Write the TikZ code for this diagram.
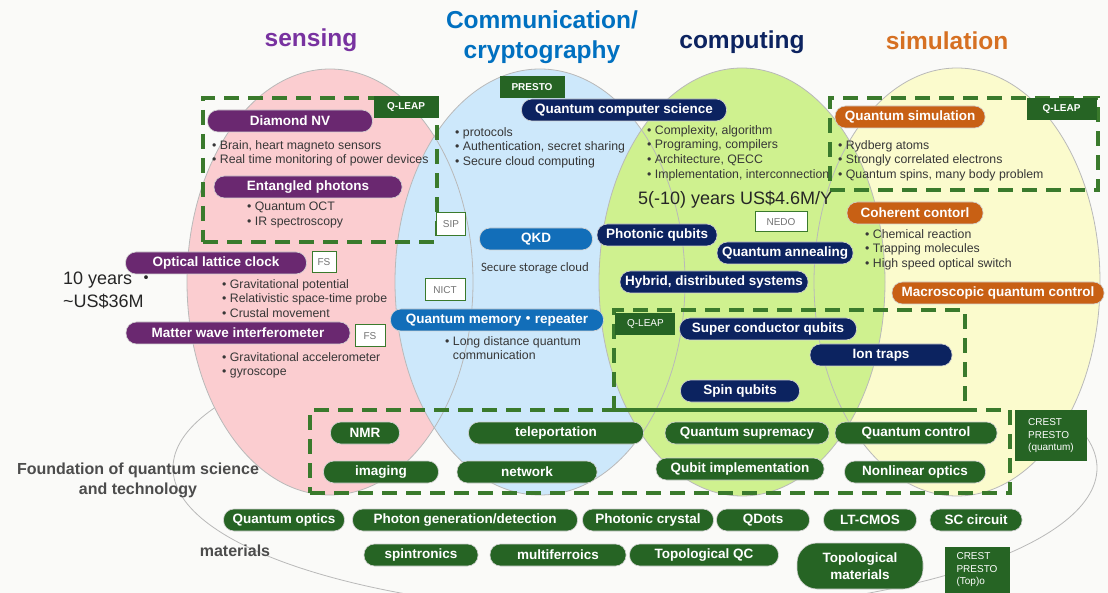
\documentclass[tikz,border=0pt]{standalone}
\usepackage{fontspec}
\setmainfont{Liberation Sans}
\newfontfamily\cjk{Noto Sans CJK JP}
\newfontfamily\calib{Carlito}
\usepackage{tikz}
\usetikzlibrary{positioning, shapes.misc, backgrounds}
\definecolor{Fondo}{RGB}{250,250,248}
\definecolor{Rosa}{RGB}{251,205,208}
\definecolor{Celeste}{RGB}{205,232,251}
\definecolor{Lima}{RGB}{207,241,143}
\definecolor{Crema}{RGB}{251,251,205}
\definecolor{Morado}{RGB}{106,40,112}
\definecolor{MoradoT}{RGB}{120,50,160}
\definecolor{Azul}{RGB}{18,110,185}
\definecolor{AzulT}{RGB}{0,112,192}
\definecolor{Marino}{RGB}{12,35,96}
\definecolor{Naranja}{RGB}{200,96,20}
\definecolor{NaranjaT}{RGB}{214,112,34}
\definecolor{Verde}{RGB}{38,100,36}
\definecolor{VerdeD}{RGB}{58,122,44}
\definecolor{Gris}{RGB}{55,55,55}
\definecolor{Borde}{RGB}{185,185,185}

\begin{document}
\begin{tikzpicture}[x=1pt, y=-1pt,
  every node/.style={font=\fontsize{12.3}{14.8}\selectfont, text=Gris},
  burbuja/.style={
    rectangle, rounded corners=10.5pt,
    draw=white!65!gray, line width=0.6pt,
    minimum height=22pt, inner xsep=4pt, inner ysep=0pt,
    text=white, font=\fontsize{13.5}{15}\selectfont\bfseries
  },
  sensor/.style={burbuja, fill=Morado},
  comunic/.style={burbuja, fill=Azul},
  computo/.style={burbuja, fill=Marino},
  simul/.style={burbuja, fill=Naranja},
  base/.style={burbuja, fill=Verde},
  etiq/.style={
    rectangle, fill=Verde, inner sep=0pt, minimum height=22pt,
    text=white, font=\fontsize{10}{11.5}\selectfont\bfseries
  },
  caja/.style={
    rectangle, fill=white, draw=VerdeD, line width=1pt,
    inner sep=0pt, minimum height=21pt,
    text=gray!90!black, font=\fontsize{10}{11}\selectfont
  },
  marco/.style={
    rectangle, draw=VerdeD, line width=3.5pt,
    dash pattern=on 15pt off 9pt, inner sep=0pt
  },
  lista/.style={anchor=north west, align=left, inner sep=0pt},
  titulo/.style={font=\fontsize{24.5}{30}\selectfont\bfseries, align=center},
  cifra/.style={font=\fontsize{18}{23}\selectfont, text=black!85, align=left, inner sep=0pt},
  rotulo/.style={font=\fontsize{16}{20}\selectfont\bfseries, text=black!70, align=center},
  elipse/.style={draw=Borde, line width=0.8pt}
]
  \useasboundingbox (0,0) rectangle (1108,593);
  \fill[Fondo] (0,0) rectangle (1108,593);

  % --- Elipses de fondo ---
  \draw[elipse] (635,468) ellipse [x radius=462, y radius=145];
  \fill[Rosa]    (330,282) ellipse [x radius=143, y radius=213];
  \fill[Celeste] (540,282) ellipse [x radius=145, y radius=213];
  \fill[Crema]   (957,282) ellipse [x radius=143, y radius=214];
  \fill[Lima]    (742,282) ellipse [x radius=143, y radius=214];
  \draw[elipse] (330,282) ellipse [x radius=143, y radius=213];
  \draw[elipse] (540,282) ellipse [x radius=145, y radius=213];
  \draw[elipse] (957,282) ellipse [x radius=143, y radius=214];
  \draw[elipse] (742,282) ellipse [x radius=143, y radius=214];

  % --- Titulos ---
  \node[titulo, text=MoradoT]  (tsens) at (311,40)  {sensing};
  \node[titulo, text=AzulT, font=\fontsize{24.5}{30}\selectfont\bfseries]
    (tcom)  at (542,37)  {Communication/\\cryptography};
  \node[titulo, text=Marino]   (tcomp) at (742,42)  {computing};
  \node[titulo, text=NaranjaT] (tsim)  at (947,41)  {simulation};

  % --- Marcos discontinuos ---
  \node[marco, minimum width=234, minimum height=144] (msens) at (320,170) {};
  \node[marco, minimum width=268, minimum height=92]  (msim)  at (964,144) {};
  \node[marco, minimum width=351, minimum height=100] (mcomp) at (789.5,360) {};
  \node[marco, minimum width=700, minimum height=83]  (mbase) at (660,451.5) {};

  \node[etiq, minimum width=65, anchor=north east] (ql1) at (msens.north east) {Q-LEAP};
  \node[etiq, minimum width=70, anchor=north east] (ql2) at ([shift={(-3,2)}]msim.north east) {Q-LEAP};
  \node[etiq, minimum width=60, anchor=north west, font=\fontsize{10}{11.5}\selectfont]
    (ql3) at ([shift={(3,5)}]mcomp.north west) {Q-LEAP};
  \node[etiq, minimum width=72, minimum height=51, anchor=north west, align=left,
    font=\fontsize{10}{12.5}\selectfont] (cr1) at ([shift={(3,2)}]mbase.north east)
    {CREST\\PRESTO\\(quantum)};
  \node[etiq, minimum width=65, minimum height=46, align=left,
    font=\fontsize{10}{12.5}\selectfont] (cr2) at (977,570) {CREST\\PRESTO\\(Top)o};
  \node[etiq, minimum width=65] (pres) at (532,87) {PRESTO};

  % --- Sensing ---
  \node[sensor, minimum width=165] (dnv) at (290,121) {Diamond NV};
  \node[lista] (ldnv) at (212,140)
    {\textbullet\ Brain, heart magneto sensors\\\textbullet\ Real time monitoring of power devices};
  \node[sensor, minimum width=188] (ent) at (308,187) {Entangled photons};
  \node[lista] (lent) at (247,202) {\textbullet\ Quantum OCT\\\textbullet\ IR spectroscopy};
  \node[sensor, minimum width=181] (olc) at (216,263) {Optical lattice clock};
  \node[caja, minimum width=24] (fs1) at (324,262) {FS};
  \node[lista] (lolc) at (222,279)
    {\textbullet\ Gravitational potential\\\textbullet\ Relativistic space-time probe\\\textbullet\ Crustal movement};
  \node[sensor, minimum width=224] (mwi) at (238,333) {Matter wave interferometer};
  \node[caja, minimum width=30, minimum height=22] (fs2) at (370,336) {FS};
  \node[lista] (lmwi) at (222,352)
    {\textbullet\ Gravitational accelerometer\\\textbullet\ gyroscope};
  \node[cifra, anchor=north west] (cost1) at (63,272)
    {10 years {\cjk ・}\\\textasciitilde US\$36M};

  % --- Comunicacion ---
  \node[lista] (lcom) at (455,127)
    {\textbullet\ protocols\\\textbullet\ Authentication, secret sharing\\\textbullet\ Secure cloud computing};
  \node[caja, minimum width=29, minimum height=23] (sip) at (451,224) {SIP};
  \node[comunic, minimum width=113] (qkd) at (536,239) {QKD};
  \node[font=\calib\fontsize{12.8}{14}\selectfont] (nube) at (535,268) {Secure storage cloud};
  \node[caja, minimum width=40, minimum height=22] (nict) at (445,290) {NICT};
  \node[comunic, minimum width=213] (qmem) at (497,320)
    {Quantum memory{\cjk ・}repeater};
  \node[lista] (lqmem) at (445,336)
    {\textbullet\ Long distance quantum\\\hphantom{\textbullet\ }communication};

  % --- Computo ---
  \node[computo, minimum width=205] (qcs) at (624,110) {Quantum computer science};
  \node[lista] (lqcs) at (647,125)
    {\textbullet\ Complexity, algorithm\\\textbullet\ Programing, compilers\\\textbullet\ Architecture, QECC\\\textbullet\ Implementation, interconnection};
  \node[cifra, anchor=west] (cost2) at (638,200) {5(-10) years US\$4.6M/Y};
  \node[caja, minimum width=52, minimum height=20] (nedo) at (781,222) {NEDO};
  \node[computo, minimum width=120] (phq)  at (657,235) {Photonic qubits};
  \node[computo, minimum width=136] (qann) at (785,253) {Quantum annealing};
  \node[computo, minimum width=188] (hyb)  at (714,282) {Hybrid, distributed systems};
  \node[computo, minimum width=177] (scq)  at (768,329) {Super conductor qubits};
  \node[computo, minimum width=142] (ion)  at (881,355) {Ion traps};
  \node[computo, minimum width=119] (spq)  at (740,391) {Spin qubits};

  % --- Simulacion ---
  \node[simul, minimum width=150] (qsim) at (910,117) {Quantum simulation};
  \node[lista] (lqsim) at (838,140)
    {\textbullet\ Rydberg atoms\\\textbullet\ Strongly correlated electrons\\\textbullet\ Quantum spins, many body problem};
  \node[simul, minimum width=136] (coh) at (915,213) {Coherent contorl};
  \node[lista] (lcoh) at (865,229)
    {\textbullet\ Chemical reaction\\\textbullet\ Trapping molecules\\\textbullet\ High speed optical switch};
  \node[simul, minimum width=212] (mqc) at (998,293) {Macroscopic quantum control};

  % --- Fundamentos ---
  \node[base, minimum width=69]  (nmr)  at (365,433) {NMR};
  \node[base, minimum width=175] (tel)  at (556,433) {teleportation};
  \node[base, minimum width=164] (qsup) at (747,433) {Quantum supremacy};
  \node[base, minimum width=162] (qctl) at (916,433) {Quantum control};
  \node[base, minimum width=115] (img)  at (381,472) {imaging};
  \node[base, minimum width=140] (net)  at (527,472) {network};
  \node[base, minimum width=168] (qimp) at (740,469) {Qubit implementation};
  \node[base, minimum width=141] (nlo)  at (915,472) {Nonlinear optics};
  \node[rotulo] (fund) at (138,480) {Foundation of quantum science\\and technology};

  % --- Materiales ---
  \node[base, minimum width=121] (qopt) at (284,520) {Quantum optics};
  \node[base, minimum width=225] (pgd)  at (465,520) {Photon generation/detection};
  \node[base, minimum width=131] (phc)  at (648,520) {Photonic crystal};
  \node[base, minimum width=93]  (qdot) at (763,520) {QDots};
  \node[base, minimum width=93]  (ltc)  at (870,520) {LT-CMOS};
  \node[base, minimum width=92]  (scc)  at (976,520) {SC circuit};
  \node[rotulo] (mat) at (235,551) {materials};
  \node[base, minimum width=114] (spt)  at (421,555) {spintronics};
  \node[base, minimum width=136] (mfe)  at (558,555) {multiferroics};
  \node[base, minimum width=149] (tqc)  at (704,555) {Topological QC};
  \node[base, minimum width=126, minimum height=46, rounded corners=20pt, align=center,
    font=\fontsize{13.5}{17}\selectfont\bfseries] (tmat) at (860,566) {Topological\\materials};
\end{tikzpicture}
\end{document}
